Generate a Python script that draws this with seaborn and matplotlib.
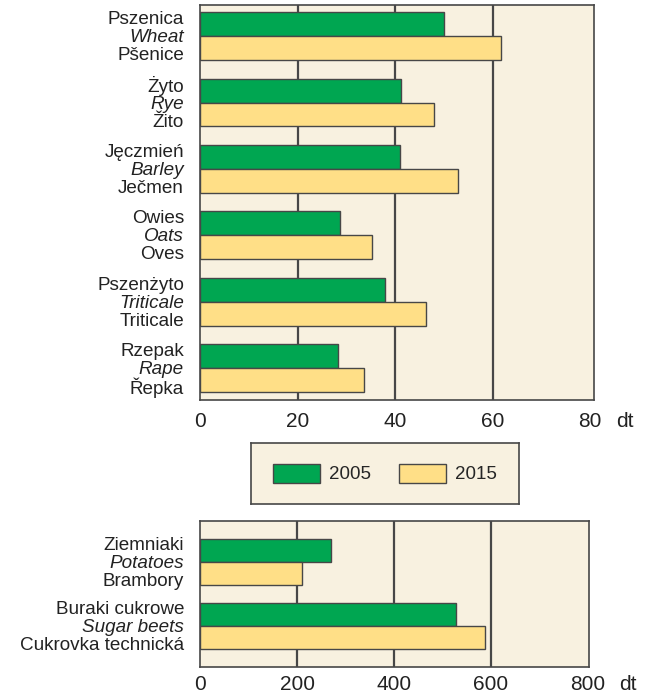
import matplotlib
matplotlib.use("Agg")
import matplotlib.pyplot as plt
import pandas as pd
import seaborn as sns

# Cereals and rape, yield per hectare (dt)
CEREAL_PL = ["Pszenica", "Żyto", "Jęczmień", "Owies", "Pszenżyto", "Rzepak"]
CEREAL_EN = ["Wheat", "Rye", "Barley", "Oats", "Triticale", "Rape"]
CEREAL_CZ = ["Pšenice", "Žito", "Ječmen", "Oves", "Triticale", "Řepka"]
CEREAL_2005 = [50.0, 41.3, 41.0, 28.8, 38.0, 28.4]
CEREAL_2015 = [61.8, 47.9, 53.0, 35.3, 46.4, 33.6]

# Root crops (dt)
ROOT_PL = ["Ziemniaki", "Buraki cukrowe"]
ROOT_EN = ["Potatoes", "Sugar beets"]
ROOT_CZ = ["Brambory", "Cukrovka technická"]
ROOT_2005 = [270, 528]
ROOT_2015 = [210, 588]

YEARS = ["2005", "2015"]
TOP_TICKS = [0, 20, 40, 60, 80]
BOTTOM_TICKS = [0, 200, 400, 600, 800]

GREEN = "#00A651"
YELLOW = "#FFDF87"
BACKGROUND = "#F8F1E0"
DARK = "#474747"
TEXT = "#222222"

W, H = 650, 696


def long_frame(names, first, second):
    return pd.DataFrame({
        "crop": names * 2,
        "value": first + second,
        "year": [YEARS[0]] * len(names) + [YEARS[1]] * len(names),
    })


def fig_rect(left, top, right, bottom):
    return [left / W, 1 - bottom / H, (right - left) / W, (bottom - top) / H]


def draw_panel(fig, box, frame, ticks, xmax, ylim, labels, unit_x, pad):
    ax = fig.add_axes(fig_rect(*box))
    ax.set_facecolor(BACKGROUND)
    for x in ticks[1:-1]:
        ax.axvline(x, color=DARK, linewidth=1.6, zorder=0)
    sns.barplot(
        data=frame, y="crop", x="value", hue="year", orient="h",
        palette=[GREEN, YELLOW], width=0.72, edgecolor=DARK, linewidth=1.0,
        saturation=1, ax=ax, zorder=2,
    )
    handles, names = ax.get_legend_handles_labels()
    ax.get_legend().remove()
    ax.set_xlim(0, xmax)
    ax.set_ylim(*ylim)
    ax.set_xticks(ticks)
    ax.set_xticklabels([str(t) for t in ticks], fontsize=15, color=TEXT)
    ax.tick_params(axis="x", length=0, pad=pad)
    ax.set_yticks([])
    ax.set_xlabel("")
    ax.set_ylabel("")
    for side in ax.spines.values():
        side.set_color(DARK)
        side.set_linewidth(1.2)
    # unit label to the right of the last tick
    dx = (unit_x - box[2]) * 0.72
    ax.annotate("dt", xy=(1, 0), xycoords="axes fraction", xytext=(dx, -pad),
                textcoords="offset points", ha="center", va="top",
                fontsize=15, color=TEXT)
    trans = ax.get_yaxis_transform()
    pl, en, cz = labels
    for i in range(len(pl)):
        for text, dy, style in ((pl[i], 11.8, "normal"), (en[i], -1.1, "italic"),
                                (cz[i], -14.0, "normal")):
            ax.annotate(text, xy=(0, i), xycoords=trans, xytext=(-11.5, dy),
                        textcoords="offset points", ha="right", va="center",
                        fontsize=13.6, style=style, color=TEXT)
    return ax, handles, names


sns.set_style("white")
plt.rcParams["font.family"] = ["Liberation Sans", "DejaVu Sans"]

fig = plt.figure(figsize=(6.5, 6.96), dpi=100)

top_frame = long_frame(CEREAL_EN, CEREAL_2005, CEREAL_2015)
ax_top, handles, names = draw_panel(
    fig, (200, 5, 594, 400), top_frame, TOP_TICKS, 80.8,
    (5.48, -0.47), (CEREAL_PL, CEREAL_EN, CEREAL_CZ), 625, 8.5,
)

bottom_frame = long_frame(ROOT_EN, ROOT_2005, ROOT_2015)
draw_panel(
    fig, (200, 521, 589, 667), bottom_frame, BOTTOM_TICKS, 802,
    (1.64, -0.64), (ROOT_PL, ROOT_EN, ROOT_CZ), 628, 6.0,
)

# Legend box between the panels
leg_ax = fig.add_axes(fig_rect(251, 443, 519, 504))
leg_ax.set_facecolor(BACKGROUND)
leg_ax.set_xticks([])
leg_ax.set_yticks([])
for side in leg_ax.spines.values():
    side.set_color(DARK)
    side.set_linewidth(1.2)
leg_ax.legend(handles, names, loc="center", ncol=2, frameon=False,
              fontsize=13.5, handlelength=2.5, handleheight=1.2,
              handletextpad=0.5, columnspacing=1.5)

fig.savefig("out.png", dpi=100)
